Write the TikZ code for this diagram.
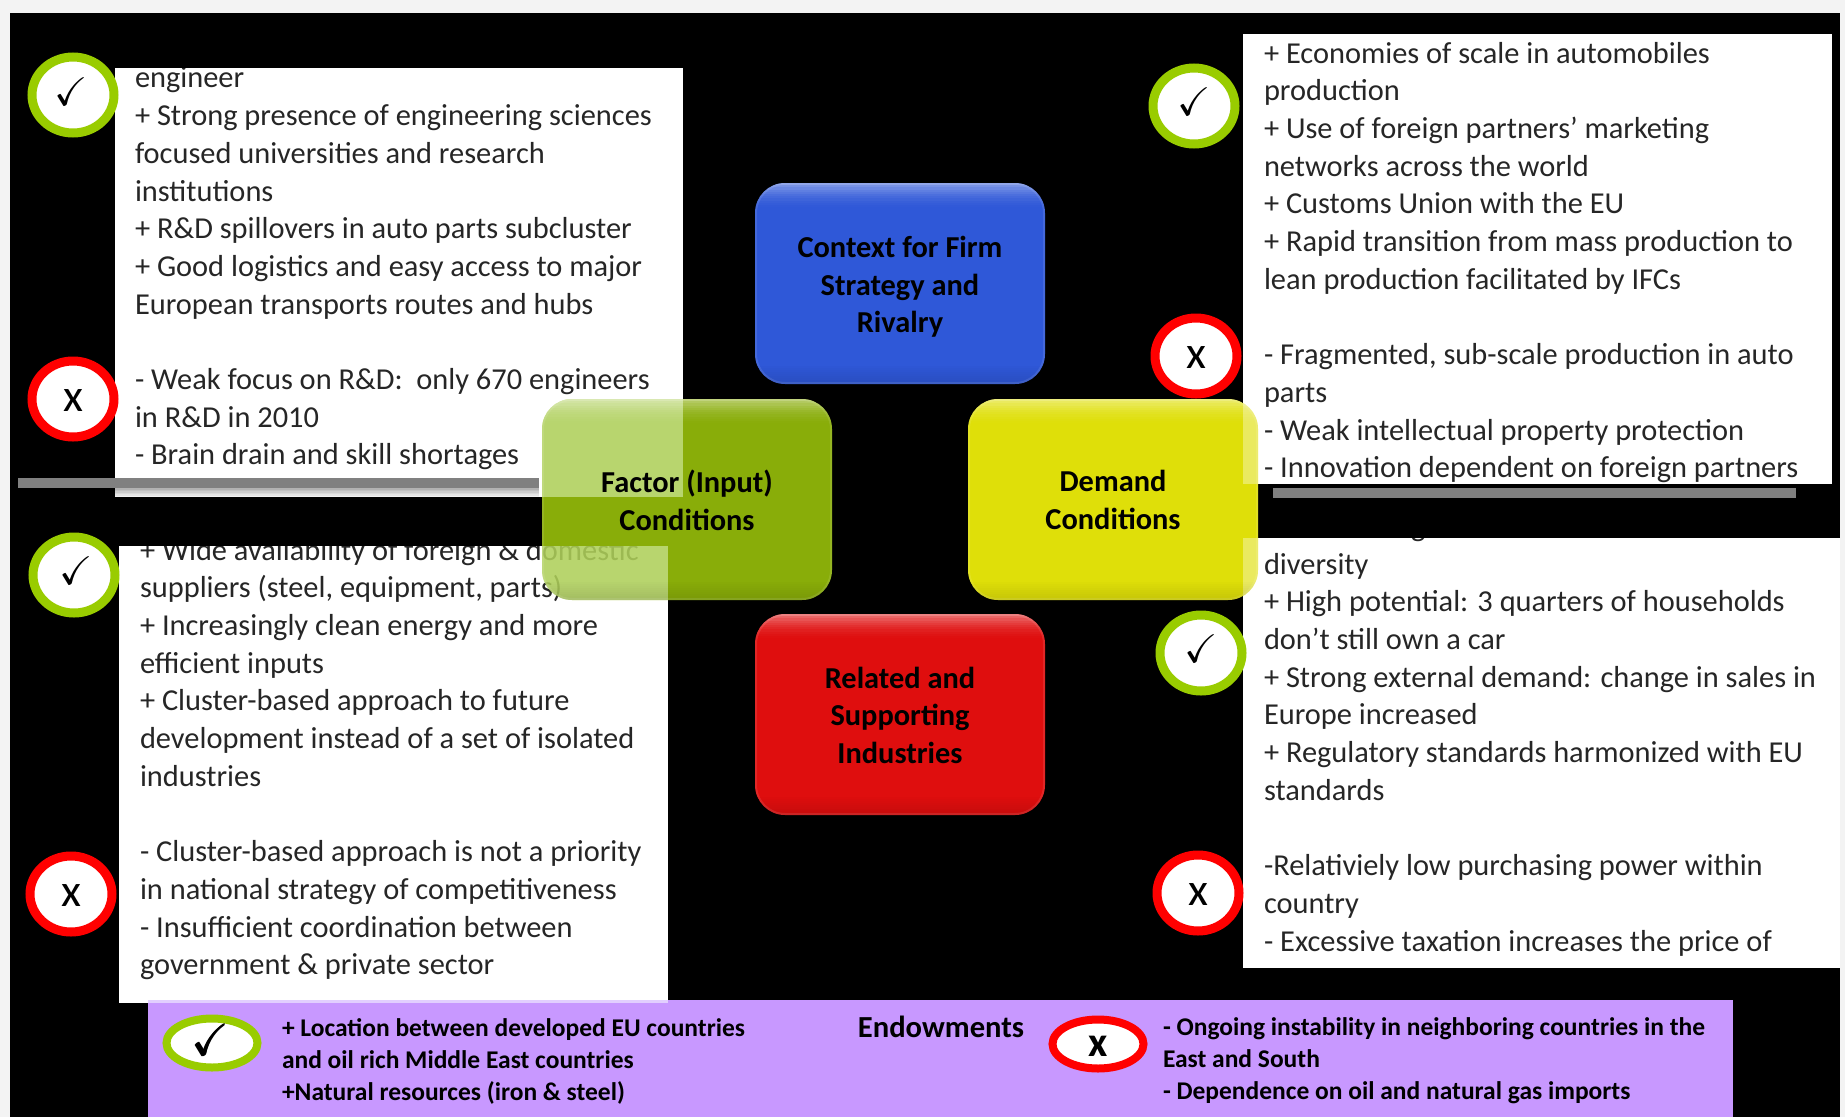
\documentclass[tikz,border=0pt]{standalone}
\usepackage{amsmath}
\usepackage{amssymb}
\usepackage{fontspec}
\setmainfont{Carlito}
\usetikzlibrary{shapes.geometric}
\definecolor{pagegrey}{HTML}{F3F3F3}
\definecolor{barcol}{HTML}{808080}
\definecolor{purplecol}{HTML}{C898FF}
\definecolor{paleedge}{HTML}{E2CFFF}
\definecolor{ringgreen}{HTML}{99CC00}
\definecolor{ringred}{HTML}{FF0000}
\definecolor{blueface}{HTML}{2F58D8}
\definecolor{greenface}{HTML}{A8D40C}
\definecolor{yellowface}{HTML}{F8F80B}
\definecolor{redface}{HTML}{DF0E0E}
\definecolor{washgreen}{RGB}{190,200,255}
\definecolor{washyellow}{RGB}{200,200,255}
\tikzset{
  x=1pt,y=-1pt,
  bodytext/.style={anchor=north west,align=left,inner sep=0pt,outer sep=0pt,text=black!85,font=\fontsize{30.4}{37.7}\selectfont},
  purpletext/.style={anchor=north west,align=left,inner sep=0pt,outer sep=0pt,text=black,font=\fontsize{25.5}{31.6}\selectfont\bfseries},
  bigbox/.style={rectangle,rounded corners=30pt,minimum width=290pt,minimum height=201pt,inner sep=0pt,outer sep=0pt},
  boxlabel/.style={inner sep=0pt,outer sep=0pt,align=center,text=black,font=\fontsize{30.4}{37.6}\selectfont\bfseries},
  okring/.style={ellipse,draw=ringgreen,fill=white,line width=9pt,inner sep=0pt,minimum width=82pt,minimum height=76pt},
  noring/.style={ellipse,draw=ringred,fill=white,line width=9pt,inner sep=0pt,minimum width=82pt,minimum height=76pt},
  tick/.style={font=\fontsize{40}{40}\selectfont,inner sep=0pt},
  cross/.style={font=\fontsize{46}{46}\selectfont,inner sep=0pt,text=black},
  barstyle/.style={fill=barcol,draw=none},
}
\newcommand{\glossover}[2]{%
  \begin{scope}
    \clip[rounded corners=30pt] (#1-145,#2-100.5) rectangle (#1+145,#2+100.5);
    \foreach \k in {0,...,11}{
      \pgfmathsetmacro{\op}{0.42*(1-\k/12)*(1-\k/12)}
      \fill[white,fill opacity=\op] (#1-145,#2-100.5+\k*2.2) rectangle (#1+145,#2-100.5+\k*2.2+2.2);
    }
    \foreach \k in {0,...,9}{
      \pgfmathsetmacro{\op}{0.012*\k}
      \fill[black,fill opacity=\op] (#1-145,#2+80+\k*2.1) rectangle (#1+145,#2+80+\k*2.1+2.1);
    }
    \draw[white,draw opacity=.1,line width=4pt,rounded corners=30pt] (#1-145,#2-100.5) rectangle (#1+145,#2+100.5);
  \end{scope}}
\newcommand{\washpart}[7]{%
  \begin{scope}
    \clip[rounded corners=30pt] (#1-145,#2-100.5) rectangle (#1+145,#2+100.5);
    \fill[#3,fill opacity=.28] (#4,#5) rectangle (#6,#7);
  \end{scope}}
\begin{document}
\begin{tikzpicture}
\useasboundingbox (0,0) rectangle (1845,1117);
\fill[pagegrey] (0,0) rectangle (1845,1117);
\fill[black] (10,13) rectangle (1840,1117);

% white text panels
\fill[white] (115,68) rectangle (683,497);
\begin{scope}
  \clip (115,68) rectangle (683,497);
  \node[bodytext] (tltext) at (135,67) {\vphantom{Ag}engineer\\+ Strong presence of engineering sciences\\focused universities and research\\institutions\\+ R\&D spillovers in auto parts subcluster\\+ Good logistics and easy access to major\\European transports routes and hubs\\[37.7pt]- Weak focus on R\&D:~ only 670 engineers\\in R\&D in 2010\\- Brain drain and skill shortages};
\end{scope}

\fill[white] (1243,34) rectangle (1832,484);
\begin{scope}
  \clip (1243,34) rectangle (1832,484);
  \node[bodytext] (trtext) at (1264,42) {\vphantom{Ag}+ Economies of scale in automobiles\\production\\+ Use of foreign partners’ marketing\\networks across the world\\+ Customs Union with the EU\\+ Rapid transition from mass production to\\lean production facilitated by IFCs\\[37.7pt]- Fragmented, sub-scale production in auto\\parts\\- Weak intellectual property protection\\- Innovation dependent on foreign partners};
\end{scope}

\fill[white] (119,546) rectangle (668,1003);
\begin{scope}
  \clip (119,546) rectangle (668,1003);
  \node[bodytext] (bltext) at (140,539) {\vphantom{Ag}+ Wide availability of foreign \& domestic\\suppliers (steel, equipment, parts)\\+ Increasingly clean energy and more\\efficient inputs\\+ Cluster-based approach to future\\development instead of a set of isolated\\industries\\[37.7pt]- Cluster-based approach is not a priority\\in national strategy of competitiveness\\- Insufficient coordination between\\government \& private sector};
\end{scope}

\fill[white] (1243,538) rectangle (1840,968);
\begin{scope}
  \clip (1243,538) rectangle (1840,968);
  \node[bodytext] (brtop) at (1411,517) {\vphantom{Ag}g};
  \node[bodytext] (brtext) at (1264,553) {\vphantom{Ag}diversity\\+ High potential: 3 quarters of households\\don’t still own a car\\+ Strong external demand: change in sales in\\Europe increased\\+ Regulatory standards harmonized with EU\\standards\\[37.7pt]-Relativiely low purchasing power within\\country\\- Excessive taxation increases the price of};
\end{scope}

% grey bars
\foreach \k in {0,...,5}{
  \fill[black,fill opacity={0.05*(6-\k)}] (115,488+\k*1.5) rectangle (539,488+\k*1.5+1.5);
}
\fill[barstyle] (18,478) rectangle (539,488);
\fill[barstyle] (1273,488) rectangle (1796,498);

% purple band
\fill[purplecol] (148,1000) rectangle (1733,1117);
\fill[paleedge] (148,1000) rectangle (668,1003);
\node[purpletext] (endleft) at (282,1019) {\vphantom{Ag}+ Location between developed EU countries\\and oil rich Middle East countries\\+Natural resources (iron \& steel)};
\node[purpletext] (endright) at (1163,1018) {\vphantom{Ag}- Ongoing instability in neighboring countries in the\\East and South\\- Dependence on oil and natural gas imports};
\node[inner sep=0pt,font=\fontsize{30.6}{30}\selectfont\bfseries] (endtitle) at (941,1027) {Endowments};

% rings
\node[okring] (ok1) at (73,95) {};
\node[tick] (ok1t) at (71,92) {$\checkmark$};
\node[noring] (no1) at (73,399) {};
\node[cross] (no1t) at (73,401) {x};
\node[okring] (ok2) at (74,575) {};
\node[tick] (ok2t) at (76,571) {$\checkmark$};
\node[noring] (no2) at (71,894) {};
\node[cross] (no2t) at (71,896) {x};
\node[okring] (ok3) at (1194,106) {};
\node[tick] (ok3t) at (1194,102) {$\checkmark$};
\node[noring] (no3) at (1196,356) {};
\node[cross] (no3t) at (1196,358) {x};
\node[okring] (ok4) at (1201,653) {};
\node[tick] (ok4t) at (1201,649) {$\checkmark$};
\node[noring] (no4) at (1198,893) {};
\node[cross] (no4t) at (1198,895) {x};
\node[ellipse,draw=ringgreen,fill=white,line width=8pt,inner sep=0pt,minimum width=91pt,minimum height=49pt] (ok5) at (212,1043) {};
\node[font=\fontsize{44}{44}\selectfont,inner sep=0pt] (ok5t) at (211,1040) {$\pmb{\checkmark}$};
\node[ellipse,draw=ringred,fill=white,line width=8pt,inner sep=0pt,minimum width=91pt,minimum height=49pt] (no5) at (1098,1044) {};
\node[font=\fontsize{42}{42}\selectfont\bfseries,inner sep=0pt] (no5t) at (1098,1046) {x};

% four main boxes
\node[bigbox,fill=blueface] (context) at (900,283.5) {};
\glossover{900}{283.5}
\node[boxlabel] (contextlabel) at (900,287) {\vphantom{Ag}Context for Firm\\Strategy and\\\vphantom{Ag}Rivalry};

\node[bigbox,fill=greenface,fill opacity=.82] (factor) at (687,499.5) {};
\washpart{687}{499.5}{washgreen}{542}{399}{683}{497}
\washpart{687}{499.5}{washgreen}{542}{546}{668}{600}
\glossover{687}{499.5}
\node[boxlabel] (factorlabel) at (687,502.5) {\vphantom{Ag}Factor (Input)\\\vphantom{Ag}Conditions};

\node[bigbox,fill=yellowface,fill opacity=.9] (demand) at (1113,499.5) {};
\washpart{1113}{499.5}{washyellow}{1243}{399}{1258}{484}
\washpart{1113}{499.5}{washyellow}{1243}{538}{1258}{600}
\glossover{1113}{499.5}
\node[boxlabel] (demandlabel) at (1113,502.5) {\vphantom{Ag}Demand\\\vphantom{Ag}Conditions};

\node[bigbox,fill=redface] (related) at (900,714.5) {};
\glossover{900}{714.5}
\node[boxlabel] (relatedlabel) at (900,717.5) {\vphantom{Ag}Related and\\Supporting\\\vphantom{Ag}Industries};
\end{tikzpicture}
\end{document}
